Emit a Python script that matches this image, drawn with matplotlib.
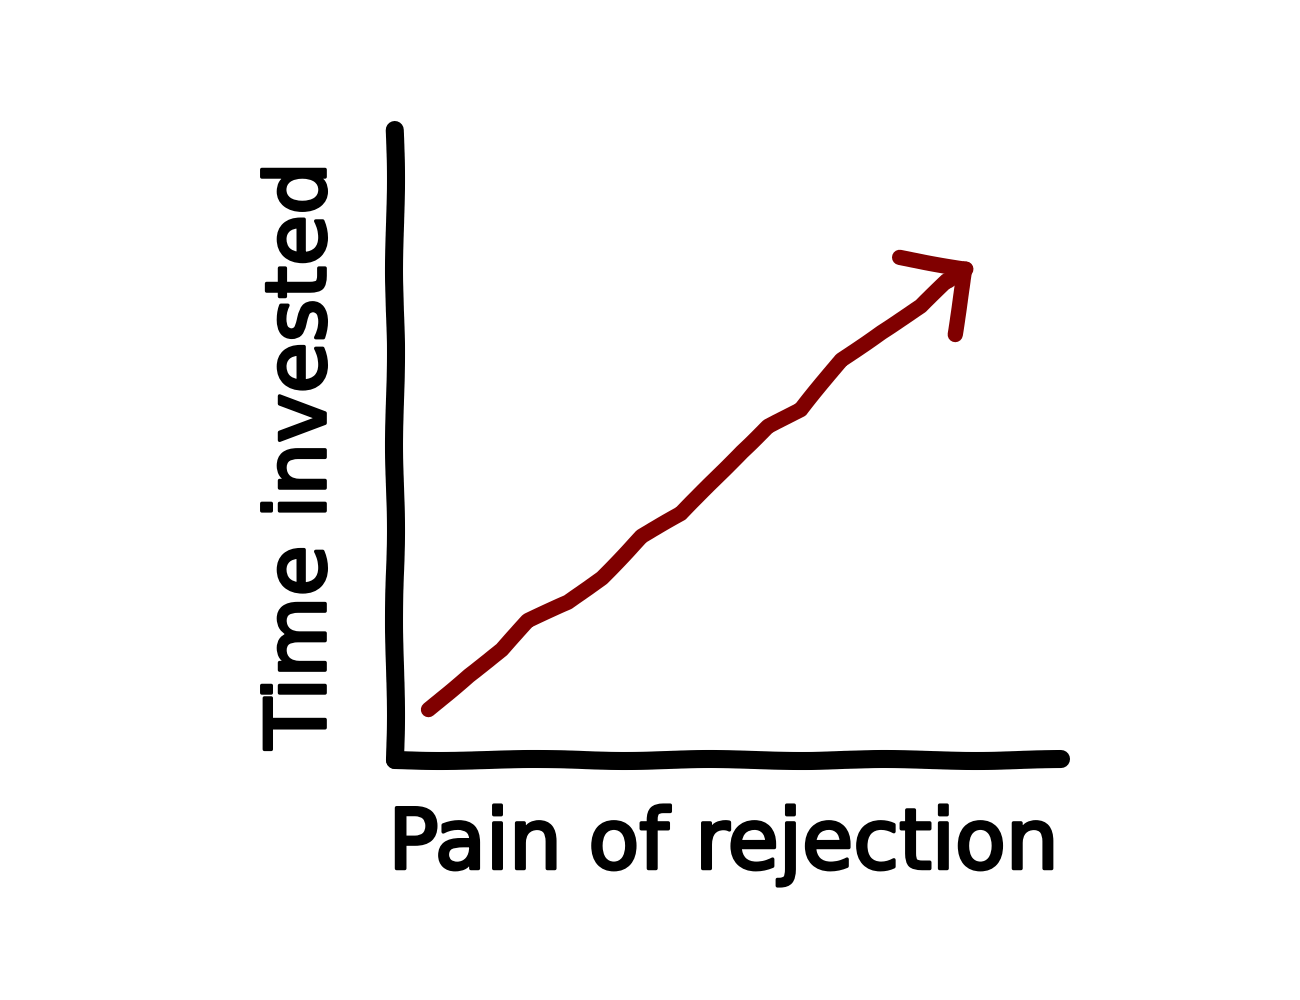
import numpy as np
import matplotlib
matplotlib.use("Agg")
import matplotlib.pyplot as plt
from matplotlib import patheffects

# points of the red curve (data units, axis 0..10)
pain = [0.5, 1.1, 1.6, 2.0, 2.6, 3.1, 3.7, 4.3, 4.7, 5.2, 5.6, 6.1, 6.7, 7.3, 7.9, 8.3]
time_inv = [0.8, 1.35, 1.75, 2.2, 2.5, 2.9, 3.55, 3.9, 4.35, 4.9, 5.3, 5.55, 6.35, 6.8, 7.2, 7.6]
arrow_tip = (8.7, 7.9)

x_label = "Pain of rejection"
y_label = "Time invested"

plt.xkcd(scale=1.0, length=200, randomness=2)
plt.rcParams['font.family'] = ['DejaVu Sans']
plt.rcParams['path.effects'] = []

fig = plt.figure(figsize=(13, 10), dpi=100)
ax = fig.add_axes([0.304, 0.24, 0.512, 0.63])

for side in ['top', 'right']:
    ax.spines[side].set_visible(False)
for side in ['left', 'bottom']:
    ax.spines[side].set_linewidth(13)
    ax.spines[side].set_capstyle('round')
ax.set_xticks([])
ax.set_yticks([])
ax.set_xlim(0, 10)
ax.set_ylim(0, 10)

line_col = '#800000'
ax.plot(pain, time_inv, color=line_col, lw=11, solid_capstyle='round')
ax.annotate('', xy=arrow_tip, xytext=(pain[-1], time_inv[-1]),
            arrowprops=dict(arrowstyle='->, head_length=0.85, head_width=0.85',
                            color=line_col, lw=11, mutation_scale=40,
                            capstyle='round', joinstyle='round',
                            shrinkA=0, shrinkB=0))

txt_fx = [patheffects.withStroke(linewidth=2.5, foreground='black')]
fig.text(0.557, 0.155, x_label, ha='center', va='center', fontsize=60,
         path_effects=txt_fx)
fig.text(0.232, 0.545, y_label, ha='center', va='center', fontsize=60,
         rotation=90, path_effects=txt_fx)

fig.savefig('out.png', dpi=100, facecolor='white')
